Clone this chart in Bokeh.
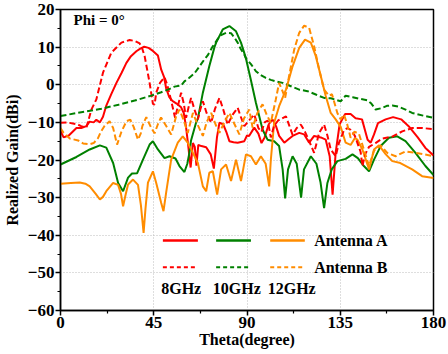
from bokeh.plotting import figure
from bokeh.models import Range1d, FixedTicker, Label
from bokeh.embed import file_html
from bokeh.resources import INLINE

# ---------------- data ----------------
theta_8a = [0, 1.5, 4, 7.7, 10, 12.5, 14, 16, 17.3, 19, 20.5, 22, 24.5, 27, 29.5, 31.8, 34, 36.6, 38.5,
            40.4, 42.5, 44.6, 47, 48.6, 50, 51, 52.5, 54, 56, 58.2, 59.5, 60.6, 61.5, 62.8, 63.9, 64.8,
            65.6, 66.5, 68, 70.3, 72.5, 74, 75.5, 76.7, 78.5, 80, 81.5, 83.5, 85.5, 88.7, 90, 91, 93.5,
            95.5, 97, 98.5, 100.5, 102.3, 104, 105.5, 108, 110, 112, 115.2, 117.6, 120, 122.4, 125.6,
            128, 129.9, 131.3, 132.8, 134.7, 137.3, 140, 142.4, 145.5, 148.2, 149.7, 151.3, 153.2,
            156.9, 160.5, 164.4, 168, 172.4, 176.1, 180]
gain_8a = [-12.3, -14, -13.5, -11.5, -11.5, -11, -9.8, -10, -9.3, -10, -8.5, -5.7, -2.5, 0.5, 3.2, 5.8,
           7.6, 8.9, 9.6, 10.1, 9.8, 9.0, 7.8, 4.0, 2.0, -1.0, -3.3, -4.3, -5.0, -6.0, -7.5, -11.3,
           -15.5, -22.0, -15.5, -16.5, -21.5, -16.0, -16.3, -16.6, -18.5, -22.3, -14, -10.1, -10.5,
           -12.5, -15, -15.3, -15.4, -15, -13.5, -13.6, -11.4, -13, -15.5, -14, -10.5, -9.2, -11,
           -13.6, -15.4, -14.5, -13.6, -12.8, -13.2, -15.4, -13.6, -14, -14.6, -19, -29.2, -18,
           -10.5, -7.8, -7.8, -8.9, -9.2, -14.6, -15.4, -13.2, -10.2, -9.2, -8.6, -9.2, -11.0, -14.0,
           -16.8, -18.8]

theta_8b = [0, 3, 6, 8, 10, 12.5, 14.9, 17.3, 20.5, 24.5, 29.4, 33.4, 36, 38.2, 39.5, 40.6, 42.2, 43,
            44.6, 45.4, 46.2, 48, 50.2, 51.5, 53.4, 55.3, 56.5, 58.2, 59.5, 60.6, 61.8, 63, 64.6, 66.3,
            67.5, 68.7, 70.5, 72.7, 74.5, 76.7, 78.5, 80.7, 83, 85.5, 87, 88.7, 91, 93.5, 95.5, 97,
            98.5, 100, 101.5, 103, 105, 108.8, 110.5, 112, 114, 116, 118, 120, 122.4, 124.8, 127.2,
            128.8, 130.4, 132.8, 134.4, 136.8, 138.5, 140, 142, 144.8, 145.7, 147, 148.9, 152, 155.3,
            160.1, 164.9, 169.7, 174.5, 180]
gain_8b = [-10.1, -10, -10.3, -10.5, -11, -11.4, -6.6, -3.9, 3.2, 8.5, 11.2, 11.9, 11.6, 11, 9.5, 7.6,
           2.9, 0.5, -5.1, -5.3, -2.1, 0.5, 2.0, 0, -4.2, -8.8, -6, -2.1, -5, -8.8, -6, -3.5, -6.5,
           -9.2, -6.5, -4.4, -7.5, -10.1, -6.5, -3.5, -6.5, -10.6, -8, -6.1, -8.5, -11, -9.5, -7.9,
           -11.5, -12.5, -10, -9.5, -14, -11, -9.5, -8.4, -11, -13.3, -11.5, -10.6, -12.5, -15,
           -18.1, -12.8, -10.6, -13.5, -17.2, -19, -15.4, -12.1, -11.5, -12, -13.5, -17.8, -21.6,
           -18.5, -16.5, -15.5, -14.3, -13.8, -12.4, -11.5, -11.5, -11.8]

theta_10a = [0, 7.7, 14.1, 19, 22.1, 25.4, 27.8, 30.2, 32.6, 34.5, 37, 39.8, 43, 44.6, 47, 50.2, 52.6,
             55.5, 57.4, 59.8, 61.2, 62.2, 63, 65.4, 66.3, 68.7, 71.8, 74.3, 75.1, 78.3, 81.5, 84.7,
             87.1, 89.5, 91.9, 94.3, 97.5, 99.9, 103.1, 105.5, 107.2, 108.4, 109.8, 112, 114, 116.1,
             117.5, 120.8, 123.5, 125.5, 127.2, 128.8, 130.9, 133.6, 137.6, 140.9, 143.5, 146.4,
             148.9, 151.3, 154.5, 158.5, 162.5, 166.5, 171.3, 176.1, 180]
gain_10a = [-21.2, -19.2, -17.2, -16.1, -16.7, -20.8, -26.1, -28.3, -24.7, -23.6, -23.5, -19.9, -15.9,
            -15.0, -17.2, -19.5, -19.0, -19.6, -21.6, -23.2, -21, -18.1, -14.8, -10.1, -9.0, -2.1,
            4.9, 10, 11.2, 14.7, 15.6, 14.2, 11.2, 7.0, 1.2, -4.8, -11.9, -14.6, -15, -16.3, -22.5,
            -30.2, -22.5, -19, -21, -30, -22.5, -19, -21, -26, -32.8, -26.1, -22.5, -20.3, -19.7,
            -18.5, -19.5, -21.6, -23, -19.9, -16.3, -14.1, -13.7, -15, -18.1, -21.6, -24.0]

theta_10b = [0, 10, 19.7, 28, 35.8, 43.8, 48.6, 51.8, 55, 58.2, 59.8, 62, 64.6, 67, 69.4, 71, 73.5,
             75.9, 77.5, 79.9, 82.3, 84, 85.5, 87, 88.7, 89.5, 91.9, 94.3, 96.5, 99.1, 101.5, 103.9,
             107.2, 111.2, 115.2, 119.2, 123.2, 127.2, 130.5, 135.2, 137.6, 141, 144, 148, 150,
             152.1, 155, 157.5, 160.1, 163, 166.5, 169.7, 175, 180]
gain_10b = [-8.3, -7.3, -6.4, -5.3, -4.2, -2.9, -2, -1.3, -0.5, -0.2, 0.9, 1.8, 3.0, 4.8, 6.7, 7.8, 10.2,
            12.2, 13.2, 13.8, 13.7, 12.5, 11.2, 9.5, 8.0, 7.0, 5.5, 3.6, 2.6, 1.8, 1.3, 0.9, 0.5, -0.4,
            -1.3, -1.7, -2.6, -3.5, -3.6, -4.4, -2.9, -3.3, -3.7, -4.1, -5.0, -6.6, -6.2, -5.6, -5.5,
            -5.8, -6.6, -7.5, -8.2, -8.8]

theta_12a = [0, 5, 9.3, 12, 14.1, 17, 19, 20.5, 22.1, 25.4, 27.8, 29.2, 30.2, 31.3, 32.6, 35, 37.4, 38.8,
             40.1, 41, 42.2, 44.6, 46.2, 48.6, 49.7, 51, 53.4, 56.6, 59, 61.4, 63.9, 66.3, 68.7, 70.3,
             71.8, 73.5, 75.6, 77.5, 79.9, 82.3, 84.7, 87.1, 89.5, 91.9, 94.3, 96.7, 99, 100.7, 101.5,
             103.1, 105.5, 108.8, 112, 115.2, 118, 120.8, 123.2, 125.6, 128, 130.4, 132.8, 135.2,
             137.6, 140, 142, 143.3, 145.7, 148.9, 151.3, 153.7, 157, 160.1, 164, 169.7, 174.5, 180]
gain_12a = [-26.3, -26.1, -26, -26.3, -27, -29, -30.5, -29.8, -28.3, -26.1, -26.6, -29, -32.3, -29.5,
            -26.5, -25.2, -26.6, -32, -39.4, -33, -26, -23.0, -26.1, -31.4, -33.6, -28.6, -19.9, -15.4,
            -13.7, -15.4, -18.1, -20.8, -27, -28.3, -23.4, -23.0, -29.2, -22.5, -21.2, -25.6, -19.9,
            -25.6, -18.5, -19, -21.2, -19, -21, -27, -20, -10.1, -5.7, -1.3, 4.9, 9.8, 12, 11.2, 7.6,
            2.3, -3, -7.5, -9.2, -11.2, -15.4, -16, -14.2, -14.6, -17.2, -22.5, -17.2, -16.1, -18.5,
            -20.3, -20.8, -22.5, -24.3, -24.8]

theta_12b = [0, 1.5, 4.5, 8.5, 10.9, 14.1, 16, 18.1, 19.5, 21.3, 23.7, 25.4, 27.3, 29.4, 31.8, 33.7,
             35.3, 37.4, 38.7, 39.5, 41.4, 43.8, 45.4, 47, 48.5, 50.5, 53.4, 55.8, 57.4, 59.5, 61.4,
             63.9, 66.5, 68.7, 70.5, 72.7, 74.8, 76.7, 79, 81.5, 84, 86.3, 88.5, 91.1, 92.7, 95, 97.5,
             99.5, 101.5, 103.9, 105.5, 107, 108.4, 110.3, 112.8, 115.2, 117.6, 120, 122.4, 124.8,
             127.2, 129.6, 131, 133.6, 135.2, 136.8, 138.4, 140, 141.8, 144, 146.4, 148.9, 151.3,
             154.5, 157.7, 161.7, 166.5, 171.3, 175.5, 180]
gain_12b = [-11.5, -12.8, -14.3, -14.8, -15.6, -15.8, -15.5, -14.2, -12.5, -10.9, -9.7, -11.5, -15.9,
            -12.5, -9.7, -9.3, -11.2, -14.6, -13, -11, -8.6, -11.5, -12.9, -10.5, -8.7, -10.5, -13.2,
            -8.4, -6.6, -9.5, -12.8, -7.5, -11, -13.6, -10, -7.5, -10.5, -12.8, -10, -7.5, -10.5,
            -13.2, -9, -6.6, -11.4, -7.5, -5.2, -8, -10.1, -3.9, 0.5, -1.5, -3.5, 2.3, 9.4, 13.8,
            15.7, 15.1, 10.2, 4.1, -1.3, -2.9, -2.5, -7.5, -9.2, -7.9, -10.6, -14.1, -12.5, -13,
            -17.2, -21.6, -17.5, -16.1, -18.1, -19, -17.7, -18.1, -18.5, -19]

x_ticks = [0, 45, 90, 135, 180]
x_minor = [22.5, 67.5, 112.5, 157.5]
y_ticks = [-60, -50, -40, -30, -20, -10, 0, 10, 20]
y_minor = [-55, -45, -35, -25, -15, -5, 5, 15]

freq_labels = ["8GHz", "10GHz", "12GHz"]
antenna_labels = ["Antenna A", "Antenna B"]
plot_title = "Phi = 0\u00b0"

RED, GREEN, ORANGE = "#FF0000", "#008000", "#FF8C00"
colors = [RED, GREEN, ORANGE]
FONT = "Liberation Serif"

p = figure(width=448, height=354, output_backend="svg", toolbar_location=None,
           x_range=Range1d(0, 180), y_range=Range1d(-60, 20),
           min_border_left=59, min_border_right=15, min_border_top=9, min_border_bottom=44)
p.background_fill_color = "white"
p.border_fill_color = "white"
p.outline_line_color = "black"
p.outline_line_width = 1.5

for ax in (p.xaxis[0], p.yaxis[0]):
    ax.axis_line_width = 1.5
    ax.major_tick_line_width = 1.5
    ax.minor_tick_line_width = 1.2
    ax.major_tick_in = 0
    ax.major_tick_out = 5
    ax.minor_tick_in = 0
    ax.minor_tick_out = 3
    ax.major_label_text_font = FONT
    ax.major_label_text_font_style = "bold"
    ax.major_label_text_font_size = "17px"
    ax.major_label_text_color = "black"
    ax.axis_label_text_font = FONT
    ax.axis_label_text_font_style = "bold"
    ax.axis_label_text_font_size = "16px"
    ax.axis_label_text_color = "black"

p.xaxis.ticker = FixedTicker(ticks=x_ticks, minor_ticks=x_minor)
p.yaxis.ticker = FixedTicker(ticks=y_ticks, minor_ticks=y_minor)
p.xaxis.axis_label = "Theta(degree)"
p.yaxis.axis_label = "Realized Gain(dBi)"
p.xaxis.major_label_standoff = 1
p.xaxis.axis_label_standoff = 0
p.yaxis.major_label_standoff = 1
p.yaxis.axis_label_standoff = 4

for g in (p.xgrid[0], p.ygrid[0]):
    g.grid_line_color = "#bdbdbd"
    g.grid_line_dash = "1 2"
    g.grid_line_width = 1

# curves
solid = [(theta_8a, gain_8a), (theta_10a, gain_10a), (theta_12a, gain_12a)]
dashed = [(theta_8b, gain_8b), (theta_10b, gain_10b), (theta_12b, gain_12b)]
for (t, g), c in zip(solid, colors):
    p.line(t, g, line_color=c, line_width=2)
for (t, g), c in zip(dashed, colors):
    p.line(t, g, line_color=c, line_width=2, line_dash="6 3")

# title inside frame
p.add_layout(Label(x=6.3, y=17.1, text=plot_title, text_font=FONT, text_font_style="bold",
                   text_font_size="15px", text_baseline="middle", text_color="black"))

# custom legend (layout positions in data space)
seg_x = [(49.4, 66.3), (75.1, 91.9), (101.2, 117.9)]
row_y = [-41.4, -48.5]
for (x0, x1), c in zip(seg_x, colors):
    p.line([x0, x1], [row_y[0], row_y[0]], line_color=c, line_width=2.5)
    p.line([x0, x1], [row_y[1], row_y[1]], line_color=c, line_width=2, line_dash="4 3")
for lab, yy in zip(antenna_labels, row_y):
    p.add_layout(Label(x=122.4, y=yy, text=lab, text_font=FONT, text_font_style="bold",
                       text_font_size="16px", text_baseline="middle", text_color="black"))
for lab, xx in zip(freq_labels, [48.6, 73.5, 100.0]):
    p.add_layout(Label(x=xx, y=-54.2, text=lab, text_font=FONT, text_font_style="bold",
                       text_font_size="16px", text_baseline="middle", text_color="black"))

open("out.html", "w").write(file_html(p, INLINE))
